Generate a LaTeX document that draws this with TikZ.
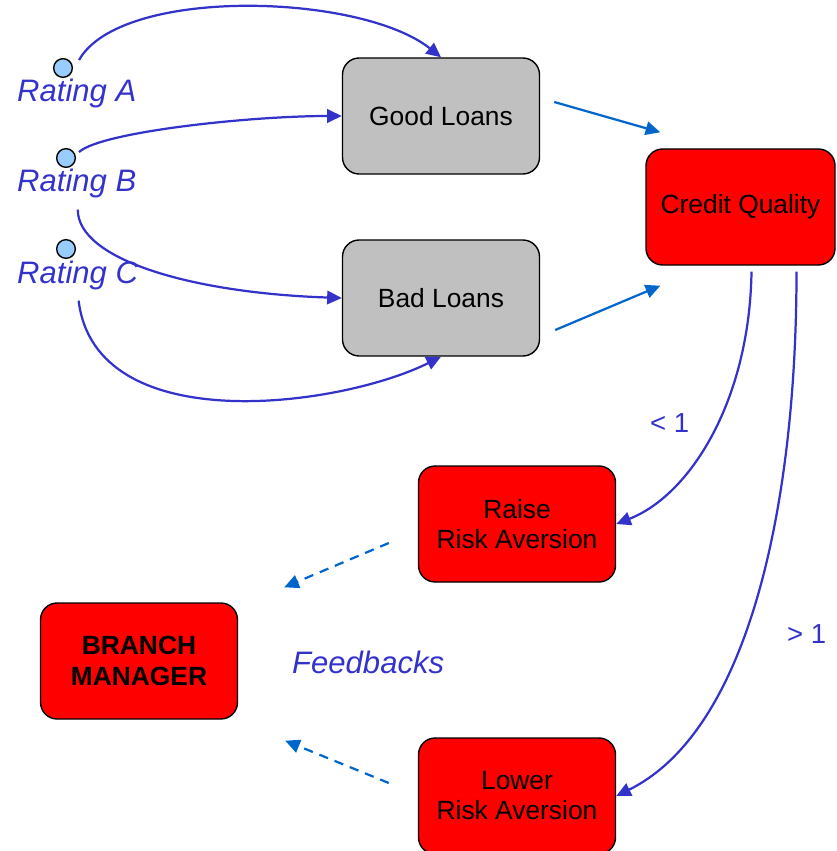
\documentclass[tikz,border=0pt]{standalone}
\usepackage{fontspec}
\setmainfont{Liberation Sans}
\usetikzlibrary{arrows.meta}
\definecolor{arcblue}{RGB}{51,51,204}
\definecolor{linkblue}{RGB}{0,102,204}
\definecolor{dotblue}{RGB}{153,204,255}
\definecolor{loangray}{RGB}{192,192,192}

\begin{document}
\begin{tikzpicture}[x=0.03cm, y=-0.03cm,
  anybox/.style={draw=black, line width=1.2pt, rounded corners=0.5cm, minimum width=5.91cm, minimum height=3.48cm, align=center, inner sep=0pt, font=\fontsize{22.5}{25.6}\selectfont},
  loanbox/.style={anybox, fill=loangray},
  actbox/.style={anybox, fill=red},
  ratedot/.style={circle, draw=black, line width=1.2pt, fill=dotblue, minimum size=0.56cm, inner sep=0pt},
  ratetext/.style={anchor=base west, inner sep=0pt, text=arcblue, font=\fontsize{26.5}{30}\selectfont\itshape},
  threshold/.style={anchor=base west, inner sep=0pt, text=arcblue, font=\fontsize{23.5}{26}\selectfont},
  linkarc/.style={draw=arcblue, line width=1.9pt, -{Triangle[length=12.5pt, width=11.5pt]}},
  linkline/.style={draw=linkblue, line width=1.9pt, -{Triangle[length=12.5pt, width=11.5pt]}},
  feedline/.style={linkline, dash pattern=on 8pt off 6pt}]
\useasboundingbox (0,0) rectangle (836,851);

% boxes
\node[loanbox] (good) at (441,116) {Good Loans};
\node[loanbox] (bad) at (441,298) {Bad Loans};
\node[actbox, minimum width=5.67cm] (quality) at (740.5,207) {Credit Quality};
\node[actbox] (raise) at (517,524) {Raise\\Risk Aversion};
\node[actbox] (lower) at (517,796) {Lower\\Risk Aversion};
\node[actbox, font=\fontsize{22.5}{26.5}\selectfont\bfseries] (manager) at (139,661) {BRANCH\\MANAGER};

% ratings
\node[ratedot] (dotA) at (63,68) {};
\node[ratedot] (dotB) at (66,158) {};
\node[ratedot] (dotC) at (66,249) {};
\node[ratetext] (rateA) at (17,102) {Rating A};
\node[ratetext] (rateB) at (17,192) {Rating B};
\node[ratetext] (rateC) at (17,283) {Rating C};

% rating arcs
\draw[linkarc] ([shift={(6,-8)}]dotA.east) .. controls +(42,-74) and +(-80,-64) .. (good.north);
\draw[linkarc] ([shift={(3,-6)}]dotB.east) .. controls +(22,-20) and +(-93,0) .. (good.west);
\draw[linkarc] ([shift={(1,11)}]rateB.south) .. controls +(0,50) and +(-150,-5) .. (bad.west);
\draw[linkarc] ([shift={(1,11)}]rateC.south) .. controls +(17,140) and +(-100,50) .. (bad.south);

% loans to quality
\draw[linkline] ([shift={(14,-14)}]good.east) -- ([shift={(15,-16)}]quality.north west);
\draw[linkline] ([shift={(15,32)}]bad.east) -- ([shift={(15,20)}]quality.south west);

% quality to risk aversion
\draw[linkarc] ([shift={(11,6)}]quality.south) .. controls +(-2,129) and +(74,-29) .. (raise.east);
\draw[linkarc] ([shift={(56,6)}]quality.south) .. controls +(0,229) and +(134,-66) .. (lower.east);
\node[threshold] (lessone) at (650,432) {< 1};
\node[threshold] (moreone) at (787,643) {> 1};

% feedbacks
\draw[feedline] ([shift={(-29,19)}]raise.west) -- ([shift={(46,-15)}]manager.north east);
\draw[feedline] ([shift={(-29,-13)}]lower.west) -- ([shift={(47,21)}]manager.south east);
\node[ratetext] (feedback) at (292,673) {Feedbacks};
\end{tikzpicture}
\end{document}
